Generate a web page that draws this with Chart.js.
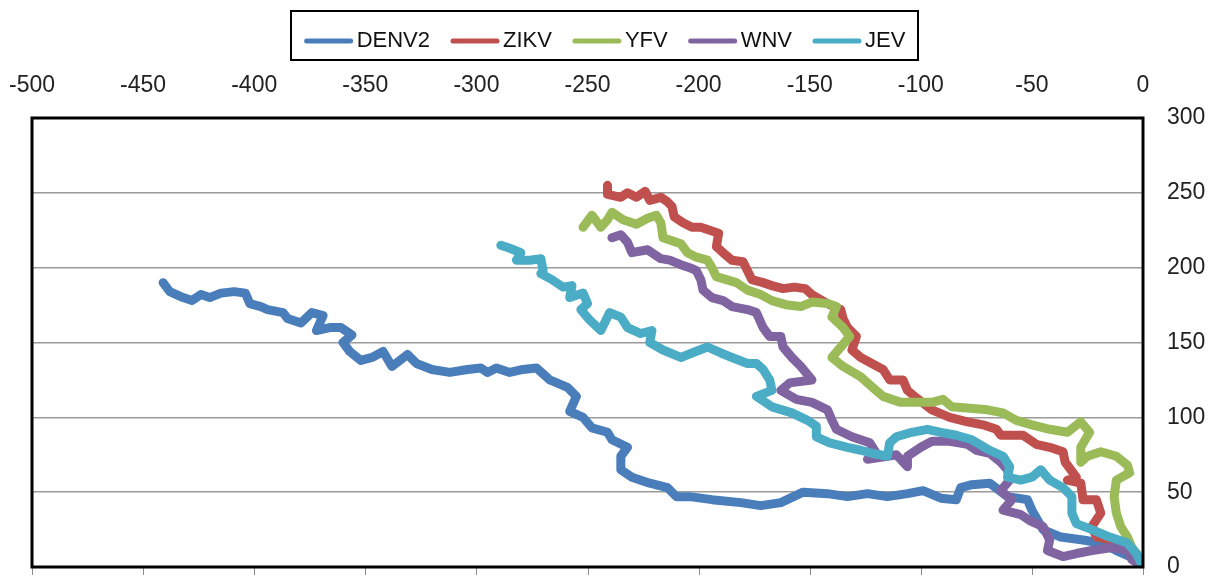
<!DOCTYPE html>
<html><head><meta charset="utf-8">
<script src="https://cdn.jsdelivr.net/npm/chart.js@4/dist/chart.umd.min.js"></script>
<style>html,body{margin:0;padding:0;background:#fff}#wrap{width:1217px;height:577px}</style>
</head><body><div id="wrap"><canvas id="c" width="1217" height="577"></canvas></div>
<script>
const seriesNames = ['DENV2','ZIKV','YFV','WNV','JEV'];
const seriesColors = ['#4A7EBB','#C0504D','#9BBB59','#8064A2','#4BACC6'];
const xTicks = [-500,-450,-400,-350,-300,-250,-200,-150,-100,-50,0];
const yTicks = [0,50,100,150,200,250,300];

const denv2X = [-441,-438,-432,-428,-424,-420,-415,-409,-404,-402,-397,-394,-387,-385,-379,-374,-369,-372,-366,-361,-356,-360,-357,-352,-347,-342,-338,-331,-327,-320,-312,-304,-298,-295,-291,-285,-279,-273,-267,-259,-255,-258,-252,-248,-241,-239,-232,-235,-235,-230,-222,-214,-210,-204,-194,-181,-172,-163,-153,-142,-133,-124,-115,-106,-99,-91,-84,-82,-77,-69,-61,-52,-50,-45,-37,-27,-19,-12,-3,0];
const denv2Y = [190,184,180,178,182,180,183,184,183,176,174,172,170,166,163,170,168,158,160,160,155,150,144,138,140,144,134,142,136,132,130,132,133,130,133,130,132,133,125,120,114,104,100,93,90,85,80,74,65,60,56,53,47,47,45,43,41,43,50,49,47,49,47,49,51,46,45,53,55,56,47,45,38,25,20,18,16,11,5,0];

const zikvX = [-241,-241,-235,-232,-228,-224,-222,-217,-214,-212,-211,-207,-203,-199,-195,-191,-192,-189,-185,-180,-178,-176,-171,-167,-162,-157,-152,-149,-142,-136,-135,-133,-129,-131,-127,-122,-117,-114,-108,-106,-102,-95,-87,-79,-72,-66,-64,-54,-48,-42,-36,-35,-30,-34,-28,-27,-21,-19,-23,-21,-14,-7,-3,0];
const zikvY = [255,249,247,250,247,251,245,247,244,241,234,230,227,227,225,223,214,210,205,204,198,192,190,188,186,187,186,182,176,172,166,160,154,145,140,136,132,125,125,118,113,105,100,97,95,92,88,88,82,80,77,70,60,58,56,45,45,36,27,20,18,15,9,0];

const yfvX = [-252,-248,-244,-241,-239,-234,-228,-223,-219,-217,-216,-212,-208,-205,-201,-196,-194,-192,-183,-178,-172,-167,-160,-154,-149,-142,-138,-140,-135,-132,-136,-140,-135,-127,-124,-117,-109,-102,-95,-90,-86,-78,-70,-63,-57,-50,-42,-34,-28,-24,-28,-28,-25,-19,-12,-7,-6,-12,-13,-12,-10,-7,-5,-1,0];
const yfvY = [227,235,227,232,237,232,229,233,235,230,220,218,216,210,207,205,200,194,190,185,182,178,175,174,177,176,174,167,160,154,147,140,134,127,123,114,110,110,110,112,107,106,105,103,98,95,92,90,97,90,80,70,74,77,74,68,63,58,47,36,27,20,13,5,0];

const wnvX = [-239,-235,-232,-230,-223,-217,-213,-208,-204,-201,-199,-198,-194,-189,-185,-178,-174,-171,-168,-163,-162,-158,-154,-149,-159,-163,-156,-149,-142,-140,-138,-131,-123,-120,-124,-115,-111,-106,-106,-100,-95,-87,-79,-75,-69,-64,-61,-60,-64,-59,-63,-55,-51,-45,-42,-43,-36,-30,-23,-14,-7,-5,-1,0];
const wnvY = [220,222,217,210,212,206,205,202,200,198,192,185,180,178,174,172,170,160,154,154,147,140,134,125,123,118,112,110,105,98,92,87,83,76,72,74,75,67,74,80,84,84,82,78,76,70,65,58,51,45,38,35,31,27,18,11,7,9,11,13,11,5,1,0];

const jevX = [-289,-285,-280,-282,-276,-271,-270,-271,-266,-261,-257,-258,-252,-250,-253,-249,-244,-240,-235,-232,-226,-221,-222,-216,-208,-203,-196,-190,-185,-178,-174,-171,-168,-167,-174,-167,-158,-151,-147,-147,-141,-133,-127,-122,-115,-114,-111,-104,-97,-91,-84,-77,-69,-63,-60,-61,-55,-50,-46,-42,-36,-32,-32,-30,-23,-15,-7,-3,-1,0];
const jevY = [215,213,210,205,205,206,198,196,192,187,188,180,183,176,172,165,158,170,167,160,156,158,150,145,140,143,147,143,140,136,136,132,125,118,114,107,103,98,94,87,83,80,78,76,74,83,87,90,92,90,88,85,78,74,67,60,58,60,65,58,53,47,36,29,25,20,16,9,3,0];

const allX = [denv2X, zikvX, yfvX, wnvX, jevX];
const allY = [denv2Y, zikvY, yfvY, wnvY, jevY];

const FONT = "'Liberation Sans', Arial, sans-serif";

const datasets = seriesNames.map((name, i) => ({
  label: name,
  data: allX[i].map((x, k) => ({x: x, y: allY[i][k]})),
  showLine: true,
  borderColor: seriesColors[i],
  backgroundColor: seriesColors[i],
  borderWidth: 9,
  pointRadius: 0,
  pointHoverRadius: 0,
  borderJoinStyle: 'round',
  borderCapStyle: 'round',
  order: seriesNames.length - 1 - i
}));

function noPad(s) { s.paddingLeft = 0; s.paddingRight = 0; s.paddingTop = 0; s.paddingBottom = 0; }

const framePlugin = {
  id: 'frame',
  afterDatasetsDraw(chart) {
    const ctx = chart.ctx, a = chart.chartArea, xs = chart.scales.x;
    ctx.save();
    ctx.strokeStyle = '#8a8a8a';
    ctx.lineWidth = 1;
    xTicks.forEach(v => {
      const px = Math.round(xs.getPixelForValue(v)) + 0.5;
      ctx.beginPath(); ctx.moveTo(px, a.bottom); ctx.lineTo(px, a.bottom + 8); ctx.stroke();
    });
    ctx.strokeStyle = '#000';
    ctx.lineWidth = 3;
    ctx.strokeRect(a.left, a.top, a.right - a.left, a.bottom - a.top);
    ctx.restore();
  },
  afterDraw(chart) {
    const ctx = chart.ctx;
    ctx.save();
    ctx.font = '22px ' + FONT;
    ctx.textBaseline = 'middle';
    const sw = 50, gapT = 3, gapI = 20;
    const widths = seriesNames.map(n => ctx.measureText(n).width);
    let total = 0;
    widths.forEach((w, i) => { total += sw + gapT + w + (i < widths.length - 1 ? gapI : 0); });
    const boxL = 291, boxR = 918, boxT = 11, boxB = 60;
    let x = (boxL + boxR) / 2 - total / 2;
    const cy = 41;
    ctx.strokeStyle = '#000'; ctx.lineWidth = 2;
    ctx.strokeRect(boxL, boxT, boxR - boxL, boxB - boxT);
    seriesNames.forEach((n, i) => {
      ctx.strokeStyle = seriesColors[i];
      ctx.lineWidth = 5; ctx.lineCap = 'round';
      ctx.beginPath(); ctx.moveTo(x + 3, cy); ctx.lineTo(x + sw - 3, cy); ctx.stroke();
      x += sw + gapT;
      ctx.fillStyle = '#111';
      ctx.fillText(n, x, cy);
      x += widths[i] + gapI;
    });
    ctx.restore();
  }
};

new Chart(document.getElementById('c'), {
  type: 'scatter',
  data: { datasets },
  options: {
    responsive: false,
    animation: false,
    devicePixelRatio: 1,
    layout: { padding: { left: 32, top: 60, right: 0, bottom: 10 } },
    plugins: { legend: { display: false }, tooltip: { enabled: false } },
    scales: {
      x: {
        type: 'linear', position: 'top', min: -500, max: 0,
        afterBuildTicks: s => { s.ticks = xTicks.map(v => ({value: v})); },
        afterFit: s => { s.height = 58; noPad(s); },
        ticks: { font: { family: FONT, size: 23 }, color: '#222', padding: 19, maxRotation: 0 },
        grid: { display: false, drawTicks: false },
        border: { display: false }
      },
      y: {
        type: 'linear', position: 'right', min: 0, max: 300,
        afterBuildTicks: s => { s.ticks = yTicks.map(v => ({value: v})); },
        afterFit: s => { s.width = 74; noPad(s); },
        ticks: { font: { family: FONT, size: 23 }, color: '#222', padding: 24 },
        grid: { color: '#9a9a9a', lineWidth: 1.5, drawTicks: false },
        border: { display: false }
      }
    }
  },
  plugins: [framePlugin]
});
</script></body></html>
